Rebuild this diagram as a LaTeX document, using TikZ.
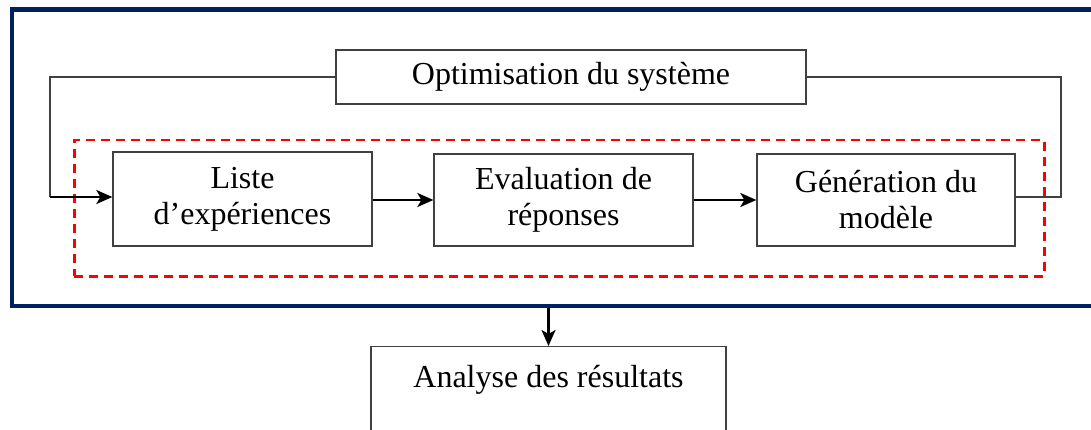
\documentclass[tikz,border=0pt]{standalone}
\usepackage{fontspec}
\setmainfont{Liberation Serif}
\usetikzlibrary{arrows.meta}
\begin{document}
\begin{tikzpicture}[x=1pt,y=-1pt,
  box/.style={draw=black!75,line width=1.3pt,rectangle,align=center,inner sep=0pt,
    font=\fontsize{32}{36}\selectfont},
  thin/.style={draw=black!75,line width=1.3pt},
  flow/.style={draw=black,line width=2.4pt,-{Stealth[length=16pt,width=14pt,inset=4pt]}},
  frame/.style={draw={rgb,255:red,0;green,32;blue,96},line width=4.3pt,rectangle,inner sep=0pt},
  group/.style={draw=red,line width=2.5pt,dash pattern=on 9pt off 6pt,rectangle,inner sep=0pt}]
\useasboundingbox (0,0) rectangle (1091,430);
\clip (0,0) rectangle (1091,430);
\fill[white] (0,0) rectangle (1091,430);
% outer frame
\node[frame,minimum width=1088pt,minimum height=296pt,anchor=north west] (fr) at (10,7.5) {};
% red dashed group
\node[group,minimum width=970pt,minimum height=136pt,anchor=north west] (grp) at (73,139) {};
% boxes
\node[box,minimum width=470pt,minimum height=54pt] (opt) at (571,77) {Optimisation du système};
\node[box,minimum width=259pt,minimum height=94pt] (lst) at (242.5,199) {Liste\\d’expériences};
\node[box,minimum width=259pt,minimum height=92pt] (eva) at (563.5,200) {Evaluation de\\réponses};
\node[box,minimum width=258pt,minimum height=92pt] (gen) at (886,200) {Génération du\\modèle};
\node[box,minimum width=355pt,anchor=north,text height=31pt,text depth=60pt,inner ysep=10pt] (ana) at (548.5,346) {Analyse des résultats};
% feedback loop
\coordinate (lc) at (50,197);
\coordinate (rc) at (1061,197);
\draw[thin] (opt.west) -| (lc);
\draw[flow] (lc) -- (lst.west |- lc);
\draw[thin] (gen.east |- rc) -- (rc) |- (opt.east);
% flow
\draw[flow] (lst.east |- eva.west) -- (eva.west);
\draw[flow] (eva.east) -- (gen.west);
\draw[flow] (fr.south -| ana.north) -- (ana.north);
\end{tikzpicture}
\end{document}
